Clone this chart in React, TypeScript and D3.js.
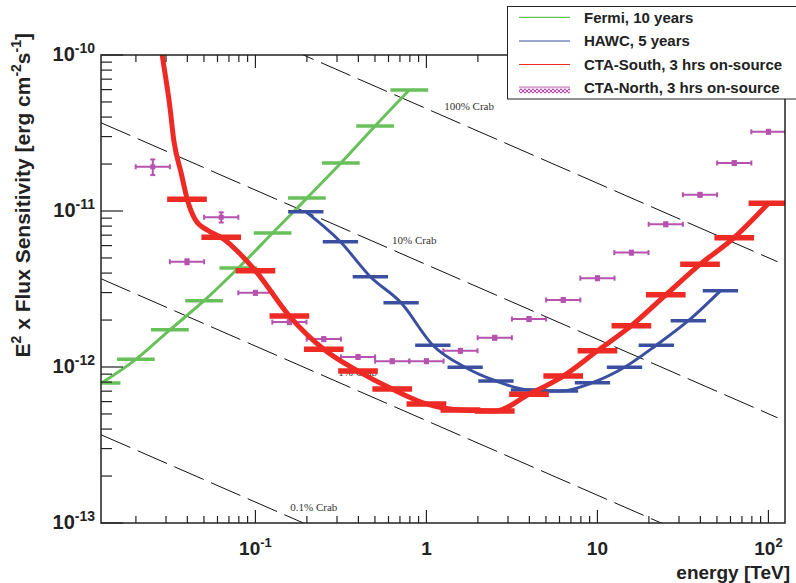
import React from "react";
import * as d3 from "d3";

// ---------------- data ----------------
const xTickValues = [0.1, 1, 10, 100];
const xTickBase = ["10", "1", "10", "10"];
const xTickExp = ["-1", "", "", "2"];
const yTickValues = [1e-10, 1e-11, 1e-12, 1e-13];
const yTickBase = ["10", "10", "10", "10"];
const yTickExp = ["-10", "-11", "-12", "-13"];

// Fermi, 10 years (bin centres, TeV ; E^2 flux, erg cm-2 s-1)
const fermiE = [0.0126, 0.02, 0.0316, 0.0501, 0.0794, 0.126, 0.2, 0.316, 0.501, 0.794];
const fermiF = [7.9e-13, 1.12e-12, 1.73e-12, 2.66e-12, 4.31e-12, 7.23e-12, 1.21e-11, 2.03e-11, 3.51e-11, 5.97e-11];

// HAWC, 5 years
const hawcE = [0.197, 0.314, 0.47, 0.711, 1.09, 1.684, 2.55, 3.95, 6.08, 9.35, 14.4, 22.1, 34.0, 52.4];
const hawcF = [9.9e-12, 6.35e-12, 3.79e-12, 2.58e-12, 1.38e-12, 9.96e-13, 8.13e-13, 7.12e-13, 7.01e-13, 7.93e-13, 9.96e-13, 1.38e-12, 1.98e-12, 3.08e-12];

// CTA-South, 3 hrs on-source (bins)
const ctaSouthE = [0.0398, 0.0631, 0.1, 0.158, 0.251, 0.398, 0.631, 1, 1.58, 2.51, 3.98, 6.31, 10, 15.8, 25.1, 39.8, 63.1, 100];
const ctaSouthF = [1.19e-11, 6.78e-12, 4.14e-12, 2.12e-12, 1.3e-12, 9.42e-13, 7.22e-13, 5.8e-13, 5.3e-13, 5.22e-13, 6.68e-13, 8.75e-13, 1.27e-12, 1.84e-12, 2.9e-12, 4.55e-12, 6.75e-12, 1.12e-11];

// CTA-South smooth curve
const ctaSouthCurveE = [0.0267, 0.0285, 0.0316, 0.0333, 0.0368, 0.0399, 0.0446, 0.0522, 0.0631, 0.1, 0.158, 0.251, 0.398, 0.631, 1, 1.58, 2.51, 3.98, 6.31, 10, 15.8, 25.1, 39.8, 63.1, 100];
const ctaSouthCurveF = [1.67e-10, 1.0e-10, 4.66e-11, 2.85e-11, 1.75e-11, 1.19e-11, 8.75e-12, 7.55e-12, 6.78e-12, 4.14e-12, 2.12e-12, 1.3e-12, 9.42e-13, 7.22e-13, 5.8e-13, 5.3e-13, 5.22e-13, 6.68e-13, 8.75e-13, 1.27e-12, 1.84e-12, 2.9e-12, 4.55e-12, 6.75e-12, 1.12e-11];

// CTA-North, 3 hrs on-source
const ctaNorthE = [0.0251, 0.0398, 0.0631, 0.1, 0.158, 0.251, 0.398, 0.631, 1, 1.58, 2.51, 3.98, 6.31, 10, 15.8, 25.1, 39.8, 63.1, 100];
const ctaNorthF = [1.92e-11, 4.73e-12, 9.12e-12, 2.99e-12, 1.94e-12, 1.51e-12, 1.16e-12, 1.09e-12, 1.09e-12, 1.27e-12, 1.54e-12, 2.03e-12, 2.69e-12, 3.71e-12, 5.41e-12, 8.22e-12, 1.27e-11, 2.03e-11, 3.22e-11];
const ctaNorthErr = [0.115, 0.037, 0.075, 0.03, 0.03, 0.03, 0.03, 0.03, 0.03, 0.03, 0.03, 0.03, 0.03, 0.03, 0.03, 0.03, 0.03, 0.03, 0.03];

// Crab reference lines
const crabFractions = [1, 0.1, 0.01, 0.001];
const crabLabels = ["100% Crab", "10% Crab", "1% Crab", "0.1% Crab"];
const crabLabelE = [1.27, 0.63, 0.305, 0.16];
const crabNorm = 4.53e-11; // E^2 dN/dE at 1 TeV, erg cm-2 s-1
const crabSlope = -0.478;
const crabEndE = 113;

const legendLabels = ["Fermi, 10 years", "HAWC, 5 years", "CTA-South, 3 hrs on-source", "CTA-North, 3 hrs on-source"];

// ---------------- layout ----------------
const W = 796;
const H = 583;
const L = 101, R = 785, T = 55, B = 523;
const FONT = "'Liberation Sans', Arial, Helvetica, sans-serif";
const SERIF = "'Liberation Serif', 'Times New Roman', serif";

const GREEN = "#68c05a";
const BLUE = "#3a4f9f";
const RED = "#ee2a24";
const MAG = "#b553ae";
const MAG_LIGHT = "#d9a3d3";

export default function App() {
  const x = d3.scaleLog().domain([0.0125, 125]).range([L, R]);
  const y = d3.scaleLog().domain([1e-13, 1e-10]).range([B, T]);

  const pts = (E: number[], F: number[]) => E.map((e, i) => [x(e), y(F[i])] as [number, number]);
  const line = d3.line().curve(d3.curveMonotoneX);

  const dex = (e: number, h: number) => e * Math.pow(10, h);

  // minor ticks
  const xMinor: number[] = [];
  for (let p = -2; p <= 2; p++) {
    for (let k = 2; k <= 9; k++) {
      const v = k * Math.pow(10, p);
      if (v > 0.0125 && v < 125) xMinor.push(v);
    }
  }
  const yMinor: number[] = [];
  for (let p = -13; p <= -11; p++) {
    for (let k = 2; k <= 9; k++) yMinor.push(k * Math.pow(10, p));
  }

  const xMin = x.domain()[0];

  return (
    <svg width={W} height={H} style={{ position: "absolute", left: 0, top: 0, background: "#fff" }}>
      <defs>
        <clipPath id="plot">
          <rect x={L} y={T} width={R - L} height={B - T} />
        </clipPath>
        <pattern id="check" width="4" height="4" patternUnits="userSpaceOnUse">
          <rect width="4" height="4" fill="#f3dcef" />
          <rect width="2" height="2" fill={MAG} />
          <rect x="2" y="2" width="2" height="2" fill={MAG} />
        </pattern>
      </defs>

      <g clipPath="url(#plot)">
        {/* Crab reference lines */}
        {crabFractions.map((f, i) => {
          const e0 = xMin, e1 = crabEndE;
          const f0 = f * crabNorm * Math.pow(e0, crabSlope);
          const f1 = f * crabNorm * Math.pow(e1, crabSlope);
          return (
            <line key={"crab" + i} x1={x(e0)} y1={y(f0)} x2={x(e1)} y2={y(f1)}
              stroke="#111" strokeWidth={1} strokeDasharray="32 8" />
          );
        })}
        {crabLabels.map((lab, i) => {
          const e = crabLabelE[i];
          const fl = crabFractions[i] * crabNorm * Math.pow(e, crabSlope);
          return (
            <text key={"cl" + i} x={x(e)} y={y(fl) - 6} fontFamily={SERIF} fontSize={11} fill="#333">{lab}</text>
          );
        })}

        {/* CTA-North points */}
        {ctaNorthE.map((e, i) => {
          const cx = x(e), cy = y(ctaNorthF[i]);
          const x1 = x(dex(e, -0.1)), x2 = x(dex(e, 0.1));
          const yT = y(ctaNorthF[i] * (1 + ctaNorthErr[i]));
          const yB = y(ctaNorthF[i] * (1 - ctaNorthErr[i]));
          return (
            <g key={"n" + i} stroke={MAG} strokeWidth={2}>
              <line x1={x1} y1={cy} x2={x2} y2={cy} />
              <line x1={x1} y1={cy - 2.5} x2={x1} y2={cy + 2.5} />
              <line x1={x2} y1={cy - 2.5} x2={x2} y2={cy + 2.5} />
              <line x1={cx} y1={yT} x2={cx} y2={yB} />
              <line x1={cx - 2.5} y1={yT} x2={cx + 2.5} y2={yT} />
              <line x1={cx - 2.5} y1={yB} x2={cx + 2.5} y2={yB} />
              <rect x={cx - 2.5} y={cy - 2.5} width={5} height={5} fill={MAG} stroke="none" />
            </g>
          );
        })}

        {/* Fermi */}
        <path d={line(pts(fermiE, fermiF)) || ""} fill="none" stroke={GREEN} strokeWidth={3} />
        {fermiE.map((e, i) => (
          <line key={"f" + i} x1={x(dex(e, -0.1))} x2={x(dex(e, 0.1))} y1={y(fermiF[i])} y2={y(fermiF[i])}
            stroke={GREEN} strokeWidth={3.5} strokeLinecap="square" />
        ))}

        {/* HAWC */}
        <path d={line(pts(hawcE, hawcF)) || ""} fill="none" stroke={BLUE} strokeWidth={3} />
        {hawcE.map((e, i) => (
          <line key={"h" + i} x1={x(dex(e, -0.093))} x2={x(dex(e, 0.093))} y1={y(hawcF[i])} y2={y(hawcF[i])}
            stroke={BLUE} strokeWidth={3.5} strokeLinecap="square" />
        ))}

        {/* CTA-South */}
        <path d={line(pts(ctaSouthCurveE, ctaSouthCurveF)) || ""} fill="none" stroke={RED} strokeWidth={5} />
        {ctaSouthE.map((e, i) => (
          <line key={"s" + i} x1={x(dex(e, -0.1))} x2={x(dex(e, 0.1))} y1={y(ctaSouthF[i])} y2={y(ctaSouthF[i])}
            stroke={RED} strokeWidth={5.5} strokeLinecap="square" />
        ))}
      </g>

      {/* Axes ticks */}
      <g stroke="#222" strokeWidth={1.2}>
        {xTickValues.map((v, i) => (
          <g key={"xt" + i}>
            <line x1={x(v)} x2={x(v)} y1={B} y2={B - 13} />
            <line x1={x(v)} x2={x(v)} y1={T} y2={T + 13} />
          </g>
        ))}
        {xMinor.map((v, i) => (
          <g key={"xm" + i}>
            <line x1={x(v)} x2={x(v)} y1={B} y2={B - 7} />
            <line x1={x(v)} x2={x(v)} y1={T} y2={T + 7} />
          </g>
        ))}
        {yTickValues.map((v, i) => (
          <line key={"yt" + i} x1={L} x2={L + 22} y1={y(v)} y2={y(v)} />
        ))}
        {yMinor.map((v, i) => (
          <line key={"ym" + i} x1={L} x2={L + 11} y1={y(v)} y2={y(v)} />
        ))}
      </g>
      <rect x={L} y={T} width={R - L} height={B - T} fill="none" stroke="#222" strokeWidth={1.5} />

      {/* tick labels */}
      {xTickValues.map((v, i) => (
        <text key={"xl" + i} x={x(v)} y={555} textAnchor="middle" fontFamily={FONT} fontWeight="bold" fontSize={19} fill="#222">
          {xTickBase[i]}
          {xTickExp[i] && <tspan dy={-8} fontSize={13}>{xTickExp[i]}</tspan>}
        </text>
      ))}
      {yTickValues.map((v, i) => (
        <text key={"yl" + i} x={95} y={y(v) + 6} textAnchor="end" fontFamily={FONT} fontWeight="bold" fontSize={20} fill="#222">
          {yTickBase[i]}
          <tspan dy={-8} fontSize={14}>{yTickExp[i]}</tspan>
        </text>
      ))}

      {/* axis titles */}
      <text x={790} y={579} textAnchor="end" fontFamily={FONT} fontWeight="bold" fontSize={19} fill="#222">energy [TeV]</text>
      <text transform="translate(30,33) rotate(-90)" textAnchor="end" fontFamily={FONT} fontWeight="bold" fontSize={21} fill="#222">
        E<tspan dy={-9} fontSize={14}>2</tspan>
        <tspan dy={9}> x Flux Sensitivity [erg cm</tspan>
        <tspan dy={-9} fontSize={14}>-2</tspan>
        <tspan dy={9}>s</tspan>
        <tspan dy={-9} fontSize={14}>-1</tspan>
        <tspan dy={9}>]</tspan>
      </text>

      {/* legend */}
      <g>
        <rect x={507.5} y={6.5} width={300} height={92.5} fill="#fff" stroke="#222" strokeWidth={1} />
        {legendLabels.map((lab, i) => {
          const cy = [17.3, 41, 64.5, 87.7][i];
          const col = [GREEN, BLUE, RED, MAG_LIGHT][i];
          return (
            <g key={"lg" + i}>
              {i < 3 ? (
                <line x1={519} x2={570} y1={cy} y2={cy} stroke={col} strokeWidth={1.2} />
              ) : (
                <g>
                  <line x1={519} x2={570} y1={cy - 0.5} y2={cy - 0.5} stroke={MAG_LIGHT} strokeWidth={2} />
                  <rect x={519} y={cy + 1} width={51} height={4.5} fill="url(#check)" />
                </g>
              )}
              <text x={584} y={cy + 5.4} fontFamily={FONT} fontWeight="bold" fontSize={15} fill="#222">{lab}</text>
            </g>
          );
        })}
      </g>
    </svg>
  );
}
